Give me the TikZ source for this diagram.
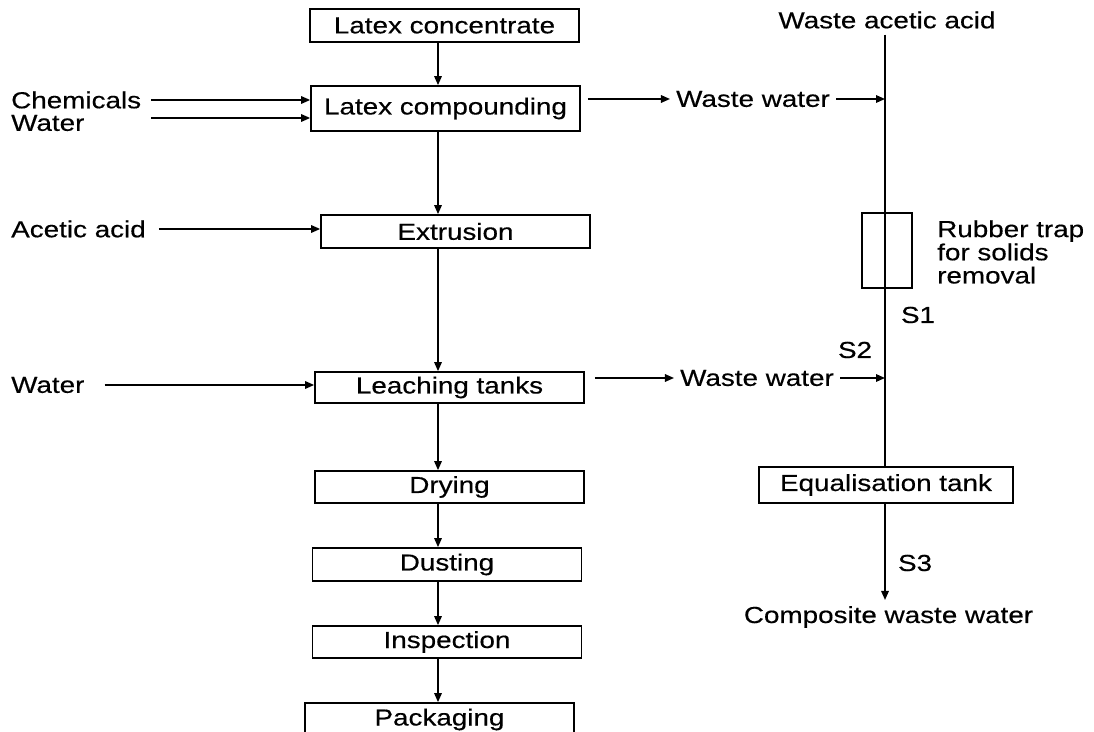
\documentclass[tikz,border=0pt]{standalone}
\usepackage{fontspec}
\setmainfont{Liberation Sans}[FakeStretch=1.2,FakeBold=0.4]
\usetikzlibrary{arrows.meta}
\tikzset{
  stage/.style={draw, line width=1pt, inner sep=0pt, minimum width=5.38cm, minimum height=0.66cm},
  flow/.style={line width=0.9pt, -{Triangle[length=0.18cm,width=0.15cm]}},
  pipe/.style={line width=0.9pt}
}
\begin{document}
\begin{tikzpicture}[x=0.02cm,y=-0.02cm,font=\fontsize{13.2}{13.2}\selectfont]
  \useasboundingbox (0,0) rectangle (1094,732);
  \coordinate (ax) at (438,0);
  \coordinate (rx) at (885,0);
  % process line
  \node[stage] (conc) at (444.5,25.5) {Latex concentrate};
  \node[stage,minimum height=0.9cm] (comp) at (445.5,108.5) {Latex compounding};
  \node[stage] (extr) at (455.5,231.5) {Extrusion};
  \node[stage,minimum height=0.62cm] (leach) at (449.5,387.5) {Leaching tanks};
  \node[stage,minimum height=0.64cm] (dry) at (449.5,487) {Drying};
  \node[stage] (dust) at (447,564.5) {Dusting};
  \node[stage,minimum height=0.64cm] (insp) at (447,642) {Inspection};
  \node[stage] (pack) at (439.5,719.5) {Packaging};
  % inputs
  \node[anchor=west] (chem) at (5,100) {Chemicals};
  \node[anchor=west] (wat) at (5,123) {Water};
  \node[anchor=west] (acid) at (5,229) {Acetic acid};
  \node[anchor=west] (wat2) at (5,385) {Water};
  % waste side
  \node (wacid) at (887,20) {Waste acetic acid};
  \node (ww1) at (753,99) {Waste water};
  \node (ww2) at (757,378) {Waste water};
  \node[draw, line width=1pt, minimum width=1cm, minimum height=1.5cm] (trap) at (887,250.5) {};
  \node[anchor=west, align=left] (traptxt) at (931,252) {Rubber trap\\for solids\\removal};
  \node (s1) at (918,315) {S1};
  \node (s2) at (855,350) {S2};
  \node[stage, minimum width=5.08cm, minimum height=0.72cm] (eq) at (886,485) {Equalisation tank};
  \node (s3) at (915,563) {S3};
  \node (cww) at (888.5,617) {Composite waste water};

  \foreach \a/\b in {conc/comp, comp/extr, extr/leach, leach/dry, dry/dust, dust/insp, insp/pack}
    \draw[flow] (\a.south -| ax) -- (\b.north -| ax);

  \draw[flow] ([xshift=0.08cm]chem.east) -- (chem.east -| comp.west);
  \draw[flow] ([xshift=0.08cm,yshift=0.1cm]wat.east -| chem.east) -- ([yshift=0.1cm]wat.east -| comp.west);
  \draw[flow] ([xshift=0.14cm]acid.east) -- (acid.east -| extr.west);
  \draw[flow] ([xshift=0.28cm]wat2.east) -- (wat2.east -| leach.west);

  \draw[flow] ([xshift=0.14cm]ww1.west -| comp.east) -- (ww1.west);
  \draw[flow] (ww1.east) -- (ww1.east -| rx);
  \draw[flow] ([xshift=0.2cm]ww2.west -| leach.east) -- (ww2.west);
  \draw[flow] (ww2.east) -- (ww2.east -| rx);

  \draw[pipe] (wacid.south -| rx) -- (trap.north -| rx) -- (trap.south -| rx) -- (eq.north -| rx);
  \draw[flow] (eq.south -| rx) -- (cww.north -| rx);
\end{tikzpicture}
\end{document}
